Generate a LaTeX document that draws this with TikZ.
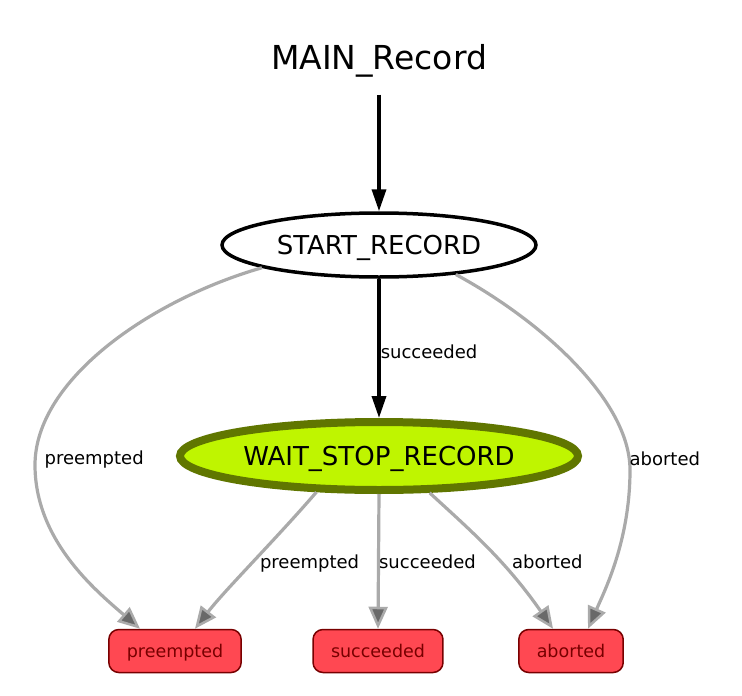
\documentclass[tikz,border=0pt]{standalone}
\usepackage{fontspec}
\setmainfont{DejaVu Sans}
\usetikzlibrary{shapes.geometric,arrows.meta}
\definecolor{waitfill}{RGB}{191,245,0}
\definecolor{waitline}{RGB}{96,118,0}
\definecolor{outfill}{RGB}{255,72,82}
\definecolor{outline}{RGB}{120,0,0}
\definecolor{edgegray}{RGB}{170,170,170}
\definecolor{tipgray}{RGB}{105,105,105}

\begin{document}
\begin{tikzpicture}[x=1pt,y=-1pt,
    state/.style={ellipse,inner sep=0pt,text depth=0pt,font=\fontsize{26}{30}\selectfont},
    outcome/.style={rectangle,rounded corners=10pt,fill=outfill,draw=outline,line width=1.5pt,
        text=outline,inner xsep=18pt,text depth=0pt,minimum height=43pt,font=\fontsize{17.5}{21}\selectfont},
    lbl/.style={text=black,font=\fontsize{18}{22}\selectfont,inner sep=0pt},
    mainedge/.style={line width=3.5pt,-{Triangle[length=22pt,width=14pt]}},
    outedge/.style={edgegray,line width=3.2pt,-{Triangle[length=22pt,width=19pt,line width=2.5pt,fill=tipgray]}}]
    \useasboundingbox (0,0) rectangle (742,696);

    % Title and states
    \node[font=\fontsize{33}{38}\selectfont,inner ysep=17pt] (main) at (379,61) {MAIN\_Record};
    \node[state,draw=black,line width=3.5pt,fill=white,minimum width=314pt,minimum height=64pt] (start) at (379,245) {START\_RECORD};
    \node[state,draw=waitline,line width=8pt,fill=waitfill,minimum width=398pt,minimum height=68pt] (wait) at (379,456) {WAIT\_STOP\_RECORD};

    % Outcomes
    \node[outcome] (pre) at (175,651) {preempted};
    \node[outcome] (succ) at (378,651) {succeeded};
    \node[outcome] (abt) at (571,651) {aborted};

    % Black transitions
    \draw[mainedge] (main) -- (start);
    \draw[mainedge] (start) -- node[lbl,right,yshift=-3pt] (l1) {succeeded} (wait);

    % Transitions to outcomes
    \draw[outedge] (start.191) .. controls (150,300) and (35,380) .. (35,465)
        node[lbl,anchor=west,xshift=8pt,yshift=5pt] (l2) {preempted}
        .. controls (35,540) and (95,590) .. ([xshift=-35pt]pre.north);
    \draw[outedge] (start.339) .. controls (540,320) and (630,400) .. (630,470)
        node[lbl,anchor=west,xshift=-2pt,yshift=11pt] (l3) {aborted}
        .. controls (630,540) and (605,590) .. ([xshift=17pt]abt.north);
    \draw[outedge] (wait.210) .. controls (275,540) and (225,590) .. node[lbl,anchor=west,pos=0.5,xshift=7pt] (l4) {preempted} ([xshift=20pt]pre.north);
    \draw[outedge] (wait.south) -- node[lbl,right,xshift=-1pt] (l5) {succeeded} (succ.north);
    \draw[outedge] (wait.324) .. controls (470,530) and (505,560) .. node[lbl,anchor=west,pos=0.6,xshift=10pt] (l6) {aborted} ([xshift=-18pt]abt.north);
\end{tikzpicture}
\end{document}
